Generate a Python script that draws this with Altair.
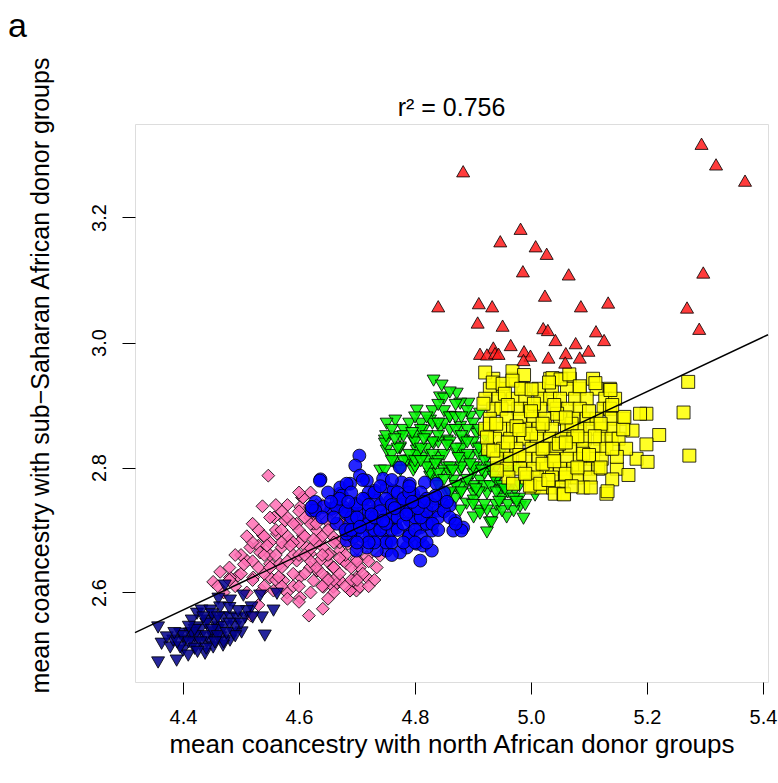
import altair as alt
import pandas as pd

FONT = "Liberation Sans"

# ---------------- data ----------------
navy_pts = [(4.357,2.544),(4.363,2.518),(4.357,2.488),(4.389,2.491),(4.378,2.512),(4.395,2.534),(4.403,2.523),
            (4.412,2.534),(4.424,2.566),(4.432,2.571),(4.447,2.571),(4.441,2.555),(4.424,2.544),(4.418,2.518),
            (4.400,2.507),(4.409,2.499),(4.438,2.502),(4.452,2.528),(4.464,2.528),(4.481,2.523),(4.458,2.544),
            (4.449,2.536),(4.469,2.560),(4.481,2.560),(4.493,2.558),(4.461,2.590),(4.472,2.611),(4.464,2.576),
            (4.481,2.587),(4.501,2.536),(4.507,2.560),(4.504,2.595),(4.518,2.576),(4.533,2.595),(4.536,2.560),
            (4.556,2.571),(4.541,2.531),(4.562,2.598),(4.429,2.528),(4.441,2.520),(4.383,2.523),(4.395,2.512),
            (4.372,2.528),(4.455,2.555),(4.452,2.512),(4.469,2.515),(4.487,2.534),(4.415,2.555),(4.430,2.540),
            (4.440,2.530),(4.460,2.540),(4.420,2.530),(4.470,2.545),(4.450,2.565),(4.490,2.545),(4.415,2.535),
            (4.400,2.530),(4.410,2.520),(4.420,2.540),(4.430,2.520),(4.440,2.550),(4.450,2.540),(4.460,2.530),
            (4.470,2.520),(4.480,2.550),(4.490,2.530),(4.500,2.550),(4.510,2.570),(4.520,2.560),(4.460,2.560),
            (4.440,2.510),(4.420,2.510),(4.390,2.520),(4.410,2.545),(4.435,2.560),(4.455,2.520),(4.475,2.535),
            (4.495,2.570),(4.480,2.575),(4.385,2.535),(4.425,2.505)]

pink_pts = [(4.464,2.633),(4.452,2.617),(4.617,2.563),(4.641,2.574),(4.537,2.738),(4.605,2.752),(4.602,2.737),
            (4.557,2.720),(4.538,2.691),(4.516,2.672),(4.510,2.651),(4.530,2.675),(4.495,2.627),(4.533,2.664),
            (4.562,2.694),(4.576,2.715),(4.596,2.710),(4.619,2.720),(4.639,2.726),(4.659,2.728),(4.570,2.672),
            (4.550,2.646),(4.584,2.683),(4.607,2.691),(4.631,2.699),(4.653,2.704),(4.676,2.710),(4.567,2.646),
            (4.596,2.651),(4.619,2.662),(4.642,2.672),(4.665,2.683),(4.685,2.678),(4.573,2.619),(4.602,2.625),
            (4.631,2.635),(4.653,2.646),(4.676,2.651),(4.699,2.654),(4.665,2.614),(4.688,2.603),(4.642,2.609),
            (4.602,2.592),(4.579,2.600),(4.556,2.603),(4.521,2.624),(4.536,2.603),(4.517,2.563),(4.481,2.624),
            (4.550,2.624),(4.699,2.624),(4.699,2.603),(4.607,2.752),(4.619,2.737),(4.625,2.710),(4.648,2.715),
            (4.636,2.683),(4.659,2.689),(4.671,2.667),(4.653,2.662),(4.636,2.651),(4.619,2.640),(4.659,2.640),
            (4.682,2.646),(4.705,2.640),(4.734,2.640),(4.717,2.624),(4.694,2.619),(4.671,2.619),(4.648,2.624),
            (4.659,2.609),(4.688,2.603),(4.705,2.609),(4.625,2.619),(4.613,2.672),(4.717,2.657),(4.740,2.659),
            (4.547,2.787),(4.550,2.660),(4.570,2.640),(4.590,2.660),(4.600,2.680),(4.620,2.670),(4.640,2.690),
            (4.580,2.690),(4.560,2.700),(4.600,2.700),(4.630,2.640),(4.650,2.660),(4.670,2.680),(4.610,2.630),
            (4.590,2.610),(4.540,2.630),(4.520,2.650),(4.660,2.620),(4.690,2.640),(4.700,2.670),(4.620,2.710),
            (4.570,2.680),(4.640,2.740),(4.600,2.730),(4.580,2.720),(4.680,2.700),(4.660,2.730),
            (4.470,2.600),(4.480,2.640),(4.490,2.610),(4.500,2.630),(4.500,2.660),(4.510,2.600),(4.520,2.680),
            (4.520,2.620),(4.530,2.640),(4.530,2.700),(4.540,2.660),(4.540,2.610),(4.550,2.680),(4.550,2.720),
            (4.560,2.620),(4.560,2.660),(4.570,2.700),(4.570,2.610),(4.580,2.650),(4.580,2.740),(4.590,2.680),
            (4.590,2.630),(4.600,2.660),(4.600,2.610),(4.610,2.690),(4.610,2.720),(4.620,2.650),(4.620,2.600),
            (4.630,2.680),(4.630,2.710),(4.640,2.630),(4.640,2.660),(4.650,2.700),(4.650,2.620),(4.660,2.680),
            (4.660,2.640),(4.670,2.710),(4.670,2.630),(4.680,2.660),(4.680,2.610),(4.690,2.690),(4.690,2.620),
            (4.700,2.650),(4.710,2.630),(4.710,2.680),(4.720,2.650),(4.730,2.620),(4.490,2.660),(4.510,2.690),
            (4.530,2.580),(4.550,2.640),(4.570,2.730),(4.590,2.710),(4.610,2.660),(4.630,2.740),(4.660,2.600),
            (4.580,2.590),(4.540,2.690),(4.560,2.740),(4.620,2.760),(4.600,2.760),(4.520,2.710),(4.480,2.620),
            (4.460,2.610),(4.640,2.610),(4.700,2.620),(4.720,2.610),(4.650,2.590),(4.600,2.585),(4.670,2.655),
            (4.625,2.685),(4.585,2.675),(4.545,2.675),(4.505,2.645),(4.565,2.625)]

blue_pts = [(4.704,2.819),(4.697,2.803),(4.637,2.781),(4.705,2.787),(4.671,2.758),(4.628,2.745),(4.622,2.731),
            (4.656,2.734),(4.676,2.737),(4.697,2.742),(4.714,2.750),(4.731,2.763),(4.751,2.768),(4.774,2.800),
            (4.777,2.776),(4.797,2.758),(4.817,2.776),(4.837,2.774),(4.849,2.742),(4.860,2.739),(4.869,2.715),
            (4.866,2.699),(4.883,2.704),(4.880,2.699),(4.829,2.699),(4.826,2.718),(4.809,2.704),(4.791,2.694),
            (4.789,2.689),(4.803,2.678),(4.786,2.672),(4.814,2.675),(4.829,2.667),(4.809,2.651),(4.774,2.664),
            (4.757,2.683),(4.751,2.667),(4.734,2.667),(4.717,2.672),(4.699,2.667),(4.682,2.683),(4.665,2.710),
            (4.688,2.710),(4.711,2.710),(4.734,2.715),(4.751,2.726),(4.774,2.731),(4.797,2.731),(4.820,2.739),
            (4.837,2.750),(4.734,2.747),(4.757,2.747),(4.780,2.752),(4.803,2.747),(4.705,2.726),(4.682,2.726),
            (4.722,2.694),(4.745,2.699),(4.768,2.704),(4.791,2.715),(4.814,2.720),(4.840,2.731),(4.694,2.689),
            (4.740,2.686),(4.671,2.768),(4.688,2.774),(4.745,2.782),(4.717,2.779),(4.791,2.774),(4.763,2.763),
            (4.665,2.747),(4.642,2.737),(4.628,2.731),(4.622,2.737),(4.636,2.779),(4.674,2.755),(4.682,2.774),
            (4.665,2.737),(4.694,2.726),(4.699,2.704),(4.682,2.694),(4.700,2.700),(4.720,2.730),(4.740,2.740),
            (4.760,2.720),(4.780,2.740),(4.800,2.720),(4.820,2.710),(4.760,2.700),(4.730,2.700),(4.700,2.740),
            (4.690,2.720),(4.720,2.760),(4.770,2.760),(4.790,2.690),(4.750,2.680),(4.840,2.720),(4.850,2.760),
            (4.810,2.760),(4.730,2.680),(4.680,2.700),
            (4.640,2.720),(4.650,2.760),(4.660,2.720),(4.670,2.750),(4.680,2.730),(4.690,2.760),(4.690,2.700),
            (4.700,2.720),(4.710,2.750),(4.710,2.690),(4.720,2.710),(4.720,2.740),(4.730,2.720),(4.730,2.760),
            (4.740,2.700),(4.740,2.730),(4.750,2.750),(4.750,2.710),(4.760,2.740),(4.760,2.680),(4.770,2.720),
            (4.770,2.700),(4.780,2.750),(4.780,2.710),(4.790,2.730),(4.790,2.760),(4.800,2.700),(4.800,2.740),
            (4.810,2.720),(4.810,2.690),(4.820,2.750),(4.820,2.730),(4.830,2.710),(4.830,2.740),(4.840,2.700),
            (4.850,2.730),(4.860,2.720),(4.870,2.710),(4.710,2.780),(4.740,2.770),(4.760,2.780),(4.790,2.770),
            (4.720,2.680),(4.700,2.680),(4.780,2.680),(4.800,2.680),(4.820,2.680),(4.760,2.660),(4.745,2.715),
            (4.765,2.735),(4.785,2.725),(4.805,2.735),(4.725,2.725),(4.705,2.705),(4.685,2.745),(4.655,2.745),
            (4.835,2.755),(4.855,2.745),(4.815,2.745),(4.795,2.745)]

green_pts = [(4.832,2.939),(4.846,2.931),(4.843,2.912),(4.872,2.918),(4.892,2.902),(4.878,2.902),(4.803,2.891),
             (4.766,2.875),(4.751,2.870),(4.826,2.875),(4.860,2.881),(4.895,2.881),(4.912,2.886),(4.814,2.859),
             (4.843,2.862),(4.878,2.865),(4.906,2.854),(4.774,2.849),(4.797,2.843),(4.748,2.843),(4.751,2.827),
             (4.774,2.830),(4.803,2.827),(4.832,2.838),(4.855,2.843),(4.883,2.843),(4.912,2.832),(4.929,2.843),
             (4.740,2.795),(4.763,2.808),(4.791,2.811),(4.814,2.816),(4.843,2.816),(4.872,2.822),(4.895,2.816),
             (4.924,2.816),(4.947,2.822),(4.797,2.795),(4.826,2.800),(4.855,2.800),(4.878,2.795),(4.906,2.800),
             (4.929,2.795),(4.958,2.795),(4.975,2.800),(4.837,2.779),(4.866,2.779),(4.889,2.774),(4.912,2.779),
             (4.941,2.779),(4.970,2.774),(4.993,2.779),(4.855,2.758),(4.878,2.758),(4.901,2.758),(4.924,2.758),
             (4.947,2.763),(4.972,2.763),(5.007,2.755),(4.889,2.742),(4.912,2.731),(4.938,2.726),(4.958,2.720),
             (4.981,2.737),(4.987,2.718),(4.929,2.712),(4.901,2.720),(4.878,2.731),(4.826,2.785),(4.748,2.838),
             (4.774,2.832),(4.748,2.795),(4.786,2.811),(4.803,2.819),(4.826,2.790),(4.849,2.795),(4.878,2.768),
             (4.901,2.747),(4.912,2.726),(4.924,2.731),(4.932,2.712),(4.924,2.696),(4.860,2.758),(4.760,2.820),
             (4.780,2.860),(4.800,2.850),(4.820,2.810),(4.840,2.840),(4.860,2.860),(4.880,2.830),(4.900,2.870),
             (4.920,2.850),(4.940,2.800),(4.960,2.810),(4.860,2.790),(4.840,2.770),(4.880,2.810),(4.900,2.790),
             (4.920,2.770),(4.950,2.750),(4.980,2.750),(4.820,2.830),(4.870,2.900),(4.850,2.890),(4.890,2.860),
             (4.910,2.820),(4.800,2.800),(4.770,2.800),(4.810,2.870),(4.830,2.890),(4.890,2.890),(4.930,2.830),
             (4.960,2.790),(4.900,2.770),(4.870,2.750),(4.940,2.740),(4.970,2.730),
             (4.750,2.850),(4.760,2.810),(4.760,2.860),(4.770,2.830),(4.780,2.810),(4.780,2.850),(4.790,2.870),
             (4.790,2.820),(4.800,2.840),(4.800,2.810),(4.810,2.860),(4.810,2.830),(4.820,2.800),(4.820,2.850),
             (4.830,2.870),(4.830,2.820),(4.840,2.790),(4.840,2.850),(4.850,2.820),(4.850,2.870),(4.850,2.780),
             (4.860,2.840),(4.860,2.800),(4.870,2.830),(4.870,2.860),(4.870,2.770),(4.880,2.800),(4.880,2.850),
             (4.890,2.820),(4.890,2.780),(4.900,2.840),(4.900,2.800),(4.910,2.760),(4.910,2.830),(4.920,2.790),
             (4.920,2.810),(4.930,2.770),(4.930,2.800),(4.940,2.760),(4.940,2.780),(4.950,2.770),(4.950,2.730),
             (4.960,2.760),(4.960,2.740),(4.970,2.750),(4.980,2.770),(4.990,2.740),(4.880,2.760),(4.860,2.760),
             (4.900,2.740),(4.920,2.740),(4.840,2.810),(4.830,2.840),(4.810,2.810),(4.800,2.880),(4.820,2.880),
             (4.840,2.870),(4.860,2.880),(4.850,2.910),(4.870,2.880),(4.880,2.880),(4.860,2.920),(4.840,2.900),
             (4.890,2.840),(4.910,2.860),(4.765,2.845),(4.775,2.795),(4.795,2.855),(4.815,2.845),(4.835,2.805),
             (4.855,2.835),(4.875,2.815),(4.895,2.805),(4.915,2.795),(4.935,2.785),(4.955,2.765),(4.975,2.745),
             (4.945,2.745),(4.905,2.765),(4.865,2.795)]

yellow_pts = [(4.935,2.942),(4.969,2.942),(5.033,2.942),(5.053,2.942),(5.067,2.942),(5.107,2.942),
              (4.929,2.926),(4.952,2.926),(4.987,2.926),(5.013,2.926),(5.036,2.926),(5.062,2.926),(5.084,2.926),(5.113,2.926),(5.136,2.926),
              (4.921,2.910),(4.944,2.910),(4.969,2.910),(4.990,2.910),(5.016,2.910),(5.033,2.910),(5.050,2.910),(5.076,2.910),(5.096,2.910),(5.128,2.910),(5.145,2.910),
              (4.935,2.894),(4.949,2.894),(4.978,2.894),(4.998,2.894),(5.016,2.894),(5.044,2.894),(5.064,2.894),(5.084,2.894),(5.125,2.894),(5.136,2.894),
              (4.929,2.878),(4.958,2.878),(4.981,2.878),(5.004,2.878),(5.024,2.878),(5.050,2.878),(5.073,2.878),(5.096,2.878),(5.113,2.878),(5.139,2.878),(5.159,2.878),
              (4.921,2.862),(4.947,2.862),(4.969,2.862),(4.990,2.862),(5.013,2.862),(5.036,2.862),(5.062,2.862),(5.084,2.862),(5.102,2.862),(5.122,2.862),(5.142,2.862),
              (4.938,2.846),(4.964,2.846),(4.987,2.846),(5.010,2.846),(5.033,2.846),(5.053,2.846),(5.073,2.846),(5.093,2.846),(5.119,2.846),(5.139,2.846),(5.151,2.846),
              (4.926,2.830),(4.952,2.830),(4.975,2.830),(5.001,2.830),(5.024,2.830),(5.044,2.830),(5.067,2.830),(5.090,2.830),(5.110,2.830),(5.130,2.830),
              (4.941,2.814),(4.964,2.814),(4.990,2.814),(5.013,2.814),(5.038,2.814),(5.062,2.814),(5.084,2.814),(5.107,2.814),(5.122,2.814),
              (4.958,2.798),(4.981,2.798),(5.004,2.798),(5.027,2.798),(5.050,2.798),(5.073,2.798),(5.093,2.798),(5.116,2.798),(5.148,2.798),
              (4.961,2.784),(4.993,2.784),(5.010,2.784),(5.036,2.784),(5.059,2.784),(5.079,2.784),(5.102,2.784),
              (5.001,2.768),(5.018,2.768),(5.038,2.768),(5.053,2.768),(5.090,2.768),
              (5.041,2.758),(5.056,2.758),(5.130,2.758),
              (4.918,2.902),(4.929,2.870),(4.924,2.848),(4.935,2.827),(4.941,2.795),(4.969,2.774),(4.998,2.771),
              (5.016,2.774),(4.921,2.952),(4.968,2.954),(4.988,2.948),(4.934,2.936),(4.951,2.934),(4.968,2.939),
              (5.037,2.943),(5.051,2.941),(5.066,2.949),(5.031,2.936),(5.084,2.930),(5.111,2.935),(5.137,2.924),
              (4.983,2.926),(5.001,2.925),(5.271,2.937),(5.263,2.888),(5.273,2.819),(5.221,2.852),(5.199,2.837),
              (5.199,2.886),(5.188,2.886),(5.175,2.859),(5.159,2.861),(5.182,2.814),(5.201,2.809),(5.168,2.788),
              (5.140,2.781),(5.132,2.762),(5.103,2.768),(5.057,2.757),(5.164,2.830),(5.148,2.817),(5.161,2.881),
              (4.955,2.918),(5.005,2.902),(5.045,2.886),(5.070,2.870),(5.000,2.854),(5.048,2.838),(5.090,2.822),
              (4.975,2.866),(5.020,2.806),(5.060,2.790),
              (4.940,2.870),(4.960,2.900),(4.980,2.860),(5.000,2.890),(5.020,2.870),(5.040,2.900),(5.060,2.880),
              (5.080,2.850),(5.100,2.890),(5.120,2.870),(5.140,2.900),(4.960,2.840),(4.980,2.820),(5.020,2.830),
              (5.060,2.840),(5.100,2.820),(5.040,2.810),(5.080,2.800),(4.990,2.790),(5.030,2.780),(5.070,2.770),
              (5.120,2.800),(5.140,2.830),(5.110,2.850)]

red_pts = [(5.294,3.318),(5.319,3.285),(5.369,3.259),(4.883,3.274),(4.982,3.182),(4.947,3.162),(5.008,3.154),
           (5.027,3.142),(4.986,3.114),(5.065,3.109),(5.297,3.112),(4.840,3.058),(4.910,3.063),(4.933,3.058),
           (5.024,3.075),(5.086,3.058),(5.133,3.064),(5.269,3.056),(4.908,3.032),(4.951,3.027),(5.021,3.023),
           (5.029,3.020),(5.112,3.018),(5.290,3.022),(5.042,3.004),(5.077,2.999),(5.126,3.004),(4.965,2.996),
           (4.935,2.992),(4.912,2.982),(4.924,2.981),(4.938,2.983),(4.988,2.986),(4.999,2.979),(4.987,2.972),
           (5.030,2.976),(5.060,2.983),(5.084,2.976),(5.099,2.987),(5.059,2.968),(4.944,2.982)]

group_names = ["pink", "green", "blue", "yellow", "navy", "red"]
group_shapes = ["diamond", "triangle-down", "circle", "square", "triangle-down", "triangle-up"]
group_fills = ["#FF6EB4", "#00F500", "#0000FF", "#FFFF00", "#00008B", "#FF1A1A"]
group_sizes = [165, 170, 118, 102, 170, 170]

x_ticks = [4.4, 4.6, 4.8, 5.0, 5.2, 5.4]
y_ticks = [2.6, 2.8, 3.0, 3.2]
x_domain = [4.3172, 5.4086]
y_domain = [2.4568, 3.3496]

fit_intercept = 0.651
fit_slope = 0.4366
r2_label = "r² = 0.756"
panel_label = "a"
x_title = "mean coancestry with north African donor groups"
y_title = "mean coancestry with sub\u2212Saharan African donor groups"

# ---------------- tables ----------------
rows = []
for g, pts in zip(group_names, [pink_pts, green_pts, blue_pts, yellow_pts, navy_pts, red_pts]):
    for x, y in pts:
        rows.append({"group": g, "x": x, "y": y})
df = pd.DataFrame(rows)

fit_df = pd.DataFrame({"x": x_domain, "y": [fit_intercept + fit_slope * v for v in x_domain]})

W, H = 633, 558

xs = alt.Scale(domain=x_domain, nice=False, zero=False)
ys = alt.Scale(domain=y_domain, nice=False, zero=False)

x_axis = alt.Axis(values=x_ticks, format=".1f", grid=False, domain=False, tickSize=12, tickColor="black",
                  tickWidth=1, labelFont=FONT, labelFontSize=20, labelColor="black", labelPadding=13,
                  labelFlush=False, title=x_title, titleFont=FONT, titleFontSize=26, titleFontWeight="normal",
                  titleColor="black", titleX=W / 2, titleY=70, titleBaseline="alphabetic", titleAlign="center")
y_axis = alt.Axis(values=y_ticks, format=".1f", grid=False, domain=False, tickSize=13, tickColor="black",
                  tickWidth=1, labelFont=FONT, labelFontSize=20, labelColor="black", labelPadding=17,
                  labelAngle=270, labelAlign="center", labelBaseline="alphabetic", labelFlush=False,
                  title=y_title, titleFont=FONT, titleFontSize=25, titleFontWeight="normal", titleColor="black",
                  titleAngle=270, titleX=-87, titleY=251, titleBaseline="alphabetic", titleAlign="center")

points = alt.Chart(df).mark_point(filled=True, stroke="black", strokeWidth=0.9, fillOpacity=0.85,
                                  strokeOpacity=0.9).encode(
    x=alt.X("x:Q", scale=xs, axis=x_axis),
    y=alt.Y("y:Q", scale=ys, axis=y_axis),
    shape=alt.Shape("group:N", scale=alt.Scale(domain=group_names, range=group_shapes), legend=None),
    fill=alt.Fill("group:N", scale=alt.Scale(domain=group_names, range=group_fills), legend=None),
    size=alt.Size("group:N", scale=alt.Scale(domain=group_names, range=group_sizes), legend=None),
)

line = alt.Chart(fit_df).mark_line(color="black", strokeWidth=1.4).encode(
    x=alt.X("x:Q", scale=xs), y=alt.Y("y:Q", scale=ys))

title = alt.Chart(alt.Data(values=[{"t": r2_label}])).mark_text(
    font=FONT, fontSize=25, color="black", align="center", baseline="alphabetic").encode(
    x=alt.value(W / 2), y=alt.value(-8), text="t:N")

plabel = alt.Chart(alt.Data(values=[{"t": panel_label}])).mark_text(
    font=FONT, fontSize=34, color="black", align="left", baseline="alphabetic").encode(
    x=alt.value(-127), y=alt.value(-87), text="t:N")

chart = alt.layer(points, line, title, plabel).properties(
    width=W, height=H, autosize=alt.AutoSizeParams(type="none"),
    padding={"left": 135, "top": 124, "right": 10, "bottom": 101},
).configure_view(stroke="black", strokeWidth=1.3).configure(background="white")

chart.save("out.html", embed_options={"renderer": "svg", "actions": False})
